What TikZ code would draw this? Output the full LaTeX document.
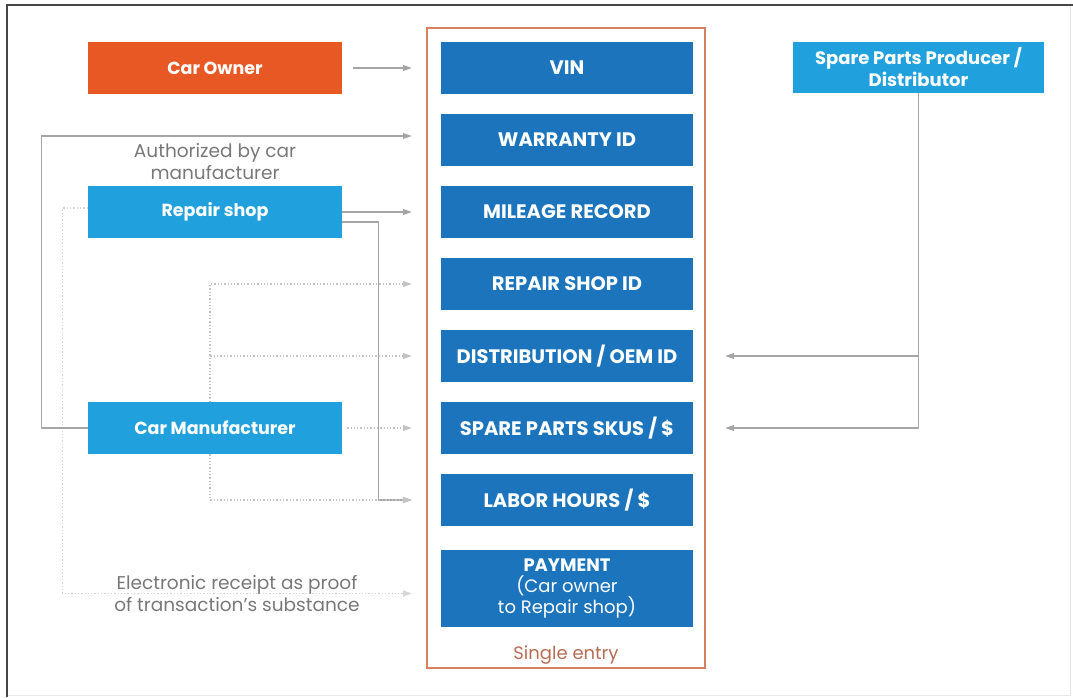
\documentclass[tikz,border=0pt]{standalone}
\usepackage{fontspec}
\setmainfont{Poppins}
\usetikzlibrary{arrows.meta}

\definecolor{ownerorange}{RGB}{232,88,36}
\definecolor{partyblue}{RGB}{32,160,220}
\definecolor{fieldblue}{RGB}{28,117,188}
\definecolor{entryorange}{RGB}{214,128,98}
\definecolor{linegray}{RGB}{165,165,165}
\definecolor{dotgray}{RGB}{195,195,195}
\definecolor{notegray}{RGB}{120,120,120}
\definecolor{framegray}{RGB}{70,70,70}

\tikzset{
  party/.style={fill=partyblue, text=white, inner sep=0pt, align=center,
    minimum width=254pt, minimum height=52pt,
    font=\bfseries\fontsize{17.5}{21}\selectfont},
  field/.style={fill=fieldblue, text=white, inner sep=0pt, align=center,
    minimum width=252pt, minimum height=52pt,
    font=\bfseries\fontsize{19.5}{22}\selectfont},
  flow/.style={draw=linegray, line width=1.3pt,
    -{Triangle[length=9pt,width=6pt]}, shorten >=29pt},
  dotflow/.style={flow, draw=dotgray, dotted},
  note/.style={text=notegray, align=center,
    font=\fontsize{18.5}{22}\selectfont}
}

\begin{document}
\begin{tikzpicture}[x=1pt,y=-1pt]

  % Frame
  \useasboundingbox (0,0) rectangle (1073,697);
  \draw [dotgray!40,line width=1pt] (1070,5) -- (1070,695) -- (7,695);
  \draw [framegray,line width=2pt] (7,697) -- (7,5) -- (1073,5);

  % Draw parties
  \node [party,fill=ownerorange] (owner) at (215,68) {Car Owner};
  \node [party] (shop) at (215,212) {Repair shop};
  \node [party] (maker) at (215,428) {Car Manufacturer};
  \node [party,minimum width=251pt,minimum height=51pt,
    font=\bfseries\fontsize{18}{22}\selectfont] (producer) at (918.5,67.5)
    {Spare Parts Producer /\\Distributor};

  % Draw single entry
  \node [draw=entryorange,line width=1.3pt,minimum width=278pt,
    minimum height=640pt] (entry) at (566,348) {};
  \node [text=entryorange!85!black,font=\fontsize{18}{21}\selectfont,
    above=1pt] at (entry.south) {Single entry};

  % Draw fields
  \node [field] (vin) at (567,68) {VIN};
  \node [field] (warranty) at (567,140) {WARRANTY ID};
  \node [field] (mileage) at (567,212) {MILEAGE RECORD};
  \node [field] (shopid) at (567,284) {REPAIR SHOP ID};
  \node [field] (distid) at (567,356) {DISTRIBUTION / OEM ID};
  \node [field] (skus) at (567,428) {SPARE PARTS SKUS / \$};
  \node [field] (labor) at (567,500) {LABOR HOURS / \$};
  \node [field,minimum height=77pt,font=\fontsize{18}{21}\selectfont]
    (payment) at (567,588.5)
    {\textbf{PAYMENT}\\(Car owner\\to Repair shop)};

  % Draw car owner and repair shop flows
  \draw [flow,shorten <=11pt] (owner.east) -- (vin.west);
  \draw [flow] (shop.east) -- (mileage.west);
  \draw [flow] ([yshift=-10pt]shop.east) -- ++(36,0) |- (labor.west);
  \draw [dotflow,draw=dotgray!70] ([yshift=4pt]shop.west) -- ++(-25,0)
    |- ([yshift=-5pt]payment.west);

  % Draw car manufacturer flows
  \draw [flow] (maker.west) -- ++(-46,0) |- ([yshift=4pt]warranty.west);
  \draw [dotflow] ([xshift=-5pt]maker.north) |- (shopid.west);
  \draw [dotflow] ([xshift=-5pt]maker.north) |- (distid.west);
  \draw [dotflow,shorten <=5pt] (maker.east) -- (skus.west);
  \draw [dotflow] ([xshift=-5pt]maker.south) |- (labor.west);

  % Draw producer flows
  \draw [flow,shorten >=32pt] (producer.south) |- (distid.east);
  \draw [flow,shorten >=32pt] (producer.south) |- (skus.east);

  % Draw notes
  \node [note] (auth) at (215,162) {Authorized by car\\manufacturer};
  \node [note] (receipt) at (237,594)
    {Electronic receipt as proof\\of transaction's substance};

\end{tikzpicture}
\end{document}
